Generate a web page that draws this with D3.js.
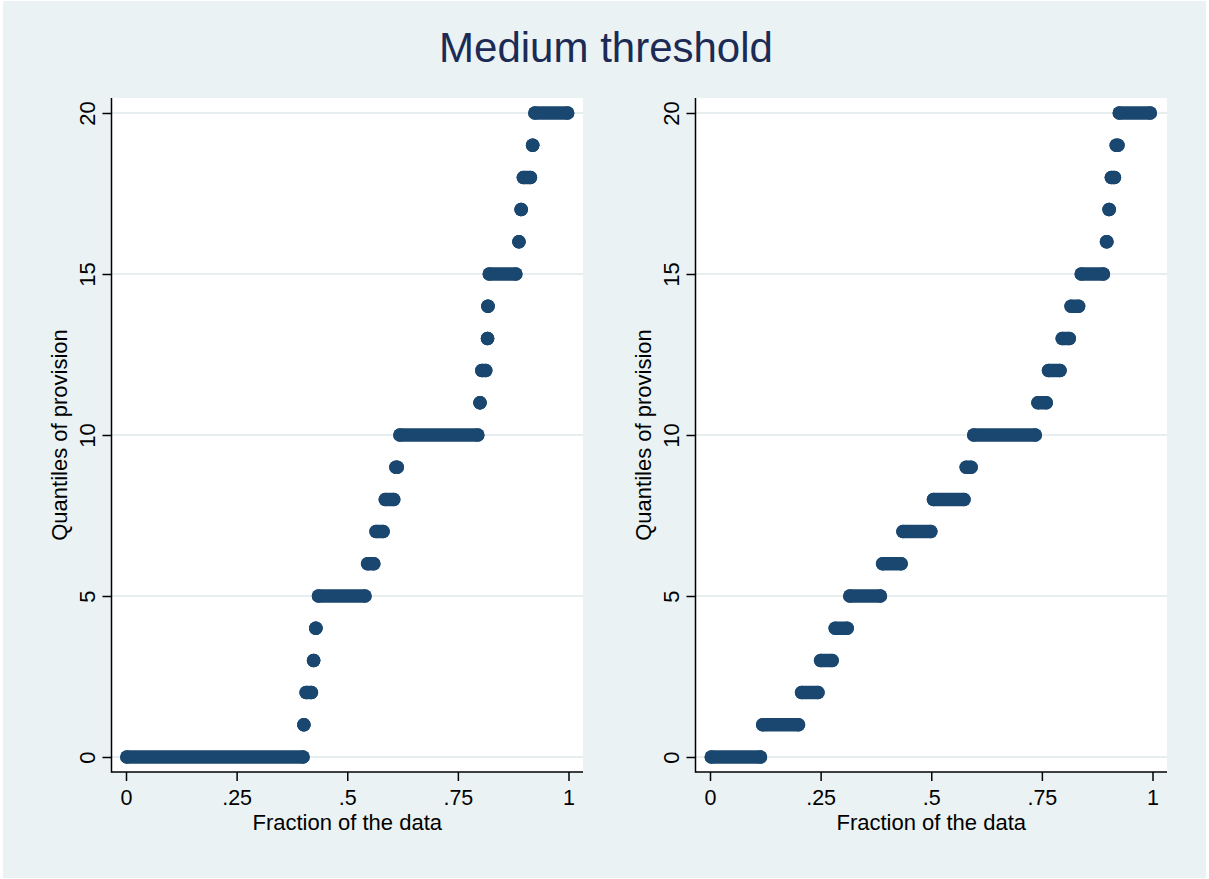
<!DOCTYPE html>
<html>
<head>
<meta charset="utf-8">
<script src="https://cdn.jsdelivr.net/npm/d3@7/dist/d3.min.js"></script>
<style>
  html, body { margin: 0; padding: 0; background: #ffffff; }
  svg { display: block; }
  text { font-family: Arial, "Liberation Sans", Helvetica, sans-serif; }
</style>
</head>
<body>
<div id="chart"></div>
<script>
// quantile values (provision) and the fraction range each value covers
var levels = [0, 1, 2, 3, 4, 5, 6, 7, 8, 9, 10, 11, 12, 13, 14, 15, 16, 17, 18, 19, 20];

var leftStart = [0.002, 0.402, 0.407, 0.424, 0.429, 0.435, 0.546, 0.565, 0.586, 0.610, 0.619,
                 0.800, 0.804, 0.817, 0.818, 0.821, 0.888, 0.893, 0.898, 0.919, 0.924];
var leftEnd   = [0.400, 0.402, 0.419, 0.424, 0.429, 0.540, 0.560, 0.581, 0.605, 0.613, 0.795,
                 0.800, 0.813, 0.817, 0.818, 0.881, 0.888, 0.893, 0.914, 0.919, 0.998];

var rightStart = [0.003, 0.119, 0.207, 0.250, 0.283, 0.316, 0.390, 0.436, 0.505, 0.579, 0.596,
                  0.741, 0.765, 0.796, 0.816, 0.839, 0.896, 0.902, 0.907, 0.918, 0.925];
var rightEnd   = [0.114, 0.200, 0.244, 0.276, 0.310, 0.385, 0.432, 0.499, 0.574, 0.590, 0.735,
                  0.760, 0.791, 0.812, 0.833, 0.889, 0.897, 0.902, 0.914, 0.922, 0.995];

var xTicks = [0, 0.25, 0.5, 0.75, 1];
var xTickLabels = ["0", ".25", ".5", ".75", "1"];
var yTicks = [0, 5, 10, 15, 20];

var width = 1209, height = 879;
var bg = "#eaf2f3", markColor = "#1a476f";

var svg = d3.select("#chart").append("svg")
    .attr("width", width)
    .attr("height", height);

// graph region
svg.append("rect")
    .attr("x", 3).attr("y", 1)
    .attr("width", 1203).attr("height", 877)
    .attr("fill", bg);

svg.append("text")
    .attr("x", 606)
    .attr("y", 62)
    .attr("text-anchor", "middle")
    .attr("font-size", "42px")
    .attr("fill", "#1c2b55")
    .text("Medium threshold");

function drawPanel(left, starts, ends) {
    var box = { x0: left, x1: left + 471.5, y0: 98, y1: 772 };

    var x = d3.scaleLinear().domain([0, 1]).range([box.x0 + 14.5, box.x1 - 14.5]);
    var y = d3.scaleLinear().domain([0, 20]).range([757, 113]);

    var g = svg.append("g");

    g.append("rect")
        .attr("x", box.x0).attr("y", box.y0)
        .attr("width", box.x1 - box.x0).attr("height", box.y1 - box.y0)
        .attr("fill", "#ffffff");

    // gridlines
    g.selectAll(".grid")
        .data(yTicks)
        .enter().append("line")
        .attr("x1", box.x0).attr("x2", box.x1)
        .attr("y1", d => y(d)).attr("y2", d => y(d))
        .attr("stroke", "#e6eef0")
        .attr("stroke-width", 2);

    // runs of equal quantiles
    var runs = levels.map((v, i) => ({ v: v, a: starts[i], b: ends[i] }));
    var marks = g.append("g");
    marks.selectAll("line")
        .data(runs)
        .enter().append("line")
        .attr("x1", d => x(d.a)).attr("x2", d => x(d.b))
        .attr("y1", d => y(d.v)).attr("y2", d => y(d.v))
        .attr("stroke", markColor)
        .attr("stroke-width", 13.5)
        .attr("stroke-linecap", "round");
    marks.selectAll("circle.s")
        .data(runs)
        .enter().append("circle")
        .attr("cx", d => x(d.a)).attr("cy", d => y(d.v))
        .attr("r", 6.75)
        .attr("fill", markColor);
    marks.selectAll("circle.e")
        .data(runs)
        .enter().append("circle")
        .attr("cx", d => x(d.b)).attr("cy", d => y(d.v))
        .attr("r", 6.75)
        .attr("fill", markColor);

    // y axis
    var yAxis = g.append("g")
        .attr("transform", "translate(" + box.x0 + ",0)")
        .call(d3.axisLeft(y).tickValues(yTicks).tickSize(9).tickSizeOuter(0).tickFormat(d3.format("d")));
    yAxis.select(".domain").remove();
    yAxis.selectAll(".tick line").attr("stroke", "#000").attr("stroke-width", 1.5);
    yAxis.selectAll(".tick text")
        .attr("x", null).attr("dy", null)
        .attr("transform", "translate(-17,0) rotate(-90)")
        .attr("text-anchor", "middle")
        .attr("font-size", "22px")
        .attr("font-family", null)
        .attr("fill", "#000");

    // x axis
    var xAxis = g.append("g")
        .attr("transform", "translate(0," + box.y1 + ")")
        .call(d3.axisBottom(x).tickValues(xTicks).tickSize(9).tickSizeOuter(0)
            .tickFormat((d, i) => xTickLabels[i]));
    xAxis.select(".domain").remove();
    xAxis.selectAll(".tick line").attr("stroke", "#000").attr("stroke-width", 1.5);
    xAxis.selectAll(".tick text")
        .attr("y", 32.5).attr("dy", null)
        .attr("font-size", "21.5px")
        .attr("font-family", null)
        .attr("fill", "#000");

    // axis lines
    g.append("line")
        .attr("x1", box.x0).attr("x2", box.x0)
        .attr("y1", box.y0).attr("y2", box.y1 + 0.75)
        .attr("stroke", "#000").attr("stroke-width", 1.5);
    g.append("line")
        .attr("x1", box.x0).attr("x2", box.x1)
        .attr("y1", box.y1).attr("y2", box.y1)
        .attr("stroke", "#000").attr("stroke-width", 1.5);

    // axis titles
    g.append("text")
        .attr("transform", "translate(" + (box.x0 - 45) + "," + ((y(0) + y(20)) / 2) + ") rotate(-90)")
        .attr("text-anchor", "middle")
        .attr("font-size", "22px")
        .attr("fill", "#000")
        .text("Quantiles of provision");
    g.append("text")
        .attr("x", (x(0) + x(1)) / 2)
        .attr("y", box.y1 + 57.5)
        .attr("text-anchor", "middle")
        .attr("font-size", "22px")
        .attr("fill", "#000")
        .text("Fraction of the data");
}

drawPanel(111.5, leftStart, leftEnd);
drawPanel(695.5, rightStart, rightEnd);
</script>
</body>
</html>
